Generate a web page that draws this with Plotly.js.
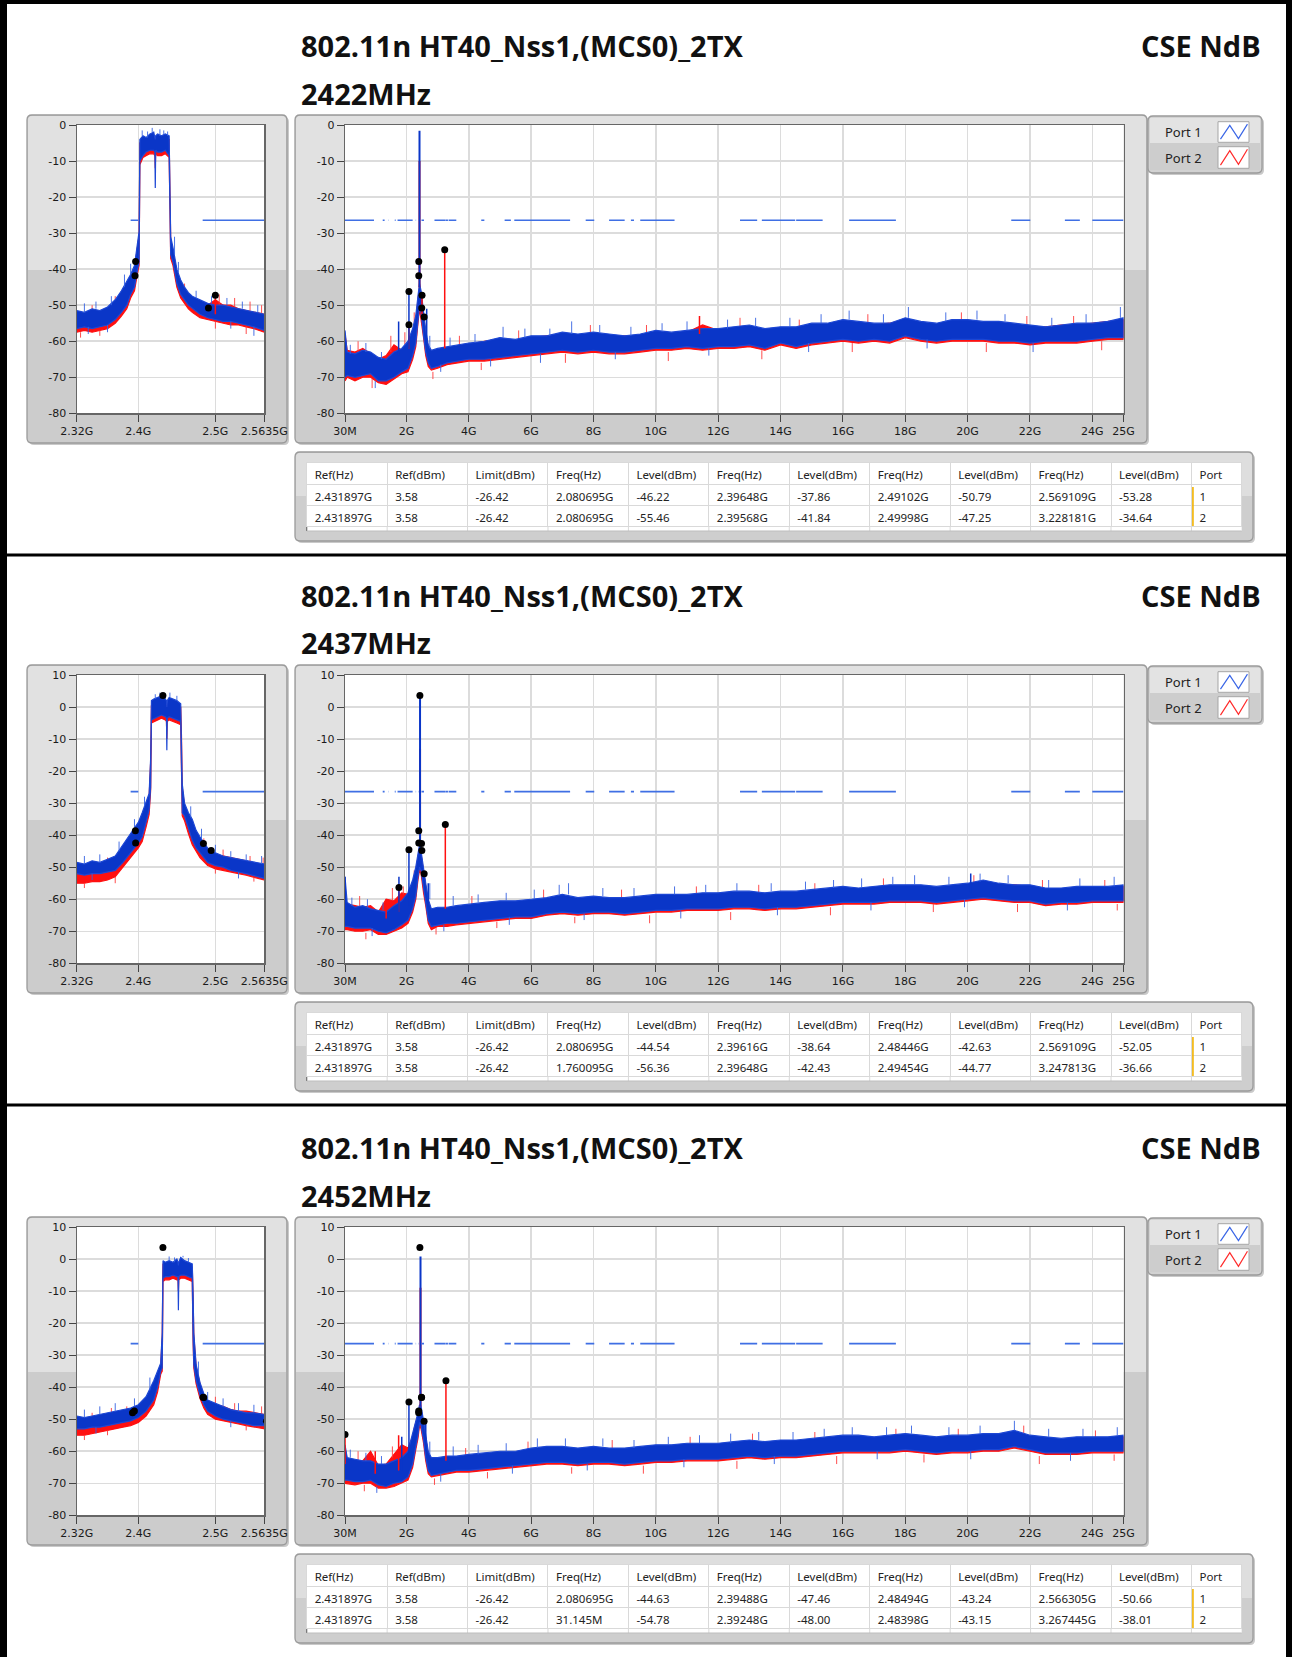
<!DOCTYPE html>
<html>
<head>
<meta charset="utf-8">
<script src="https://cdn.plot.ly/plotly-3.0.1.min.js"></script>
<style>html,body{margin:0;padding:0;background:#fff}#chart{width:1292px;height:1657px}</style>
</head>
<body>
<div id="chart"></div>
<script>
// ---------------- DATA ----------------
const TITLE = '802.11n HT40_Nss1,(MCS0)_2TX';
const RIGHT_TITLE = 'CSE NdB';
const CHANNELS = ['2422MHz', '2437MHz', '2452MHz'];
const Y_TOP = [0, 10, 10];
const Y_BOTTOM = -80;
const MAIN_TICKS = [0.03, 2, 4, 6, 8, 10, 12, 14, 16, 18, 20, 22, 24, 25];
const MAIN_TICK_TEXT = ['30M', '2G', '4G', '6G', '8G', '10G', '12G', '14G', '16G', '18G', '20G', '22G', '24G', '25G'];
const LEFT_TICKS = [2.32, 2.4, 2.5, 2.5635];
const LEFT_TICK_TEXT = ['2.32G', '2.4G', '2.5G', '2.5635G'];
const PORTS = ['Port 1', 'Port 2'];
const TABLE_HEADER = ['Ref(Hz)', 'Ref(dBm)', 'Limit(dBm)', 'Freq(Hz)', 'Level(dBm)', 'Freq(Hz)', 'Level(dBm)', 'Freq(Hz)', 'Level(dBm)', 'Freq(Hz)', 'Level(dBm)', 'Port'];
const REF_HZ = '2.431897G';
const REF_DBM = 3.58;
const LIMIT_DBM = -26.42;
const LIMIT_SEGMENTS = [[0.03,0.96],[1.24,1.3],[1.427,1.435],[1.6265,1.6455],[1.6465,1.66],[1.71,1.7188],[1.7222,2.2],[2.3,2.31],[2.39,2.4],[2.4835,2.5635],[2.9,3.26],[3.267,3.332],[3.339,3.3458],[3.358,3.6],[4.4,4.5],[5.15,5.35],[5.46,7.25],[7.75,8.025],[8.5,9.0],[9.2,9.3],[9.5,10.6],[12.7,13.25],[13.4,14.47],[14.5,15.35],[16.2,17.7],[21.4,22.01],[23.12,23.6],[24.0,25]];

// marker table values
const S1_P1_FREQ = ['2.080695G', '2.39648G', '2.49102G', '2.569109G'];
const S1_P1_LEVEL = [-46.22, -37.86, -50.79, -53.28];
const S1_P2_FREQ = ['2.080695G', '2.39568G', '2.49998G', '3.228181G'];
const S1_P2_LEVEL = [-55.46, -41.84, -47.25, -34.64];
const S2_P1_FREQ = ['2.080695G', '2.39616G', '2.48446G', '2.569109G'];
const S2_P1_LEVEL = [-44.54, -38.64, -42.63, -52.05];
const S2_P2_FREQ = ['1.760095G', '2.39648G', '2.49454G', '3.247813G'];
const S2_P2_LEVEL = [-56.36, -42.43, -44.77, -36.66];
const S3_P1_FREQ = ['2.080695G', '2.39488G', '2.48494G', '2.566305G'];
const S3_P1_LEVEL = [-44.63, -47.46, -43.24, -50.66];
const S3_P2_FREQ = ['31.145M', '2.39248G', '2.48398G', '3.267445G'];
const S3_P2_LEVEL = [-54.78, -48.00, -43.15, -38.01];

// full-span spectrum (GHz): noise band upper / lower envelopes
const MAIN_F = [0.03,0.1,0.35,0.6,0.85,1.1,1.35,1.6,1.85,2.05,2.2,2.3,2.37,2.42,2.47,2.55,2.62,2.7,2.8,3.0,3.3,3.6,4.0,4.5,5.0,5.5,6.0,6.5,7.0,7.5,8.0,8.5,9.0,9.5,10.0,10.5,11.0,11.5,12.0,12.5,13.0,13.5,14.0,14.5,15.0,15.5,16.0,16.5,17.0,17.5,18.0,18.5,19.0,19.5,20.0,20.5,21.0,21.5,22.0,22.5,23.0,23.5,24.0,24.5,25.0];

const S1_MAIN_BLUE_HI = [-57,-63,-63.5,-62.5,-63,-64.5,-65,-63,-62,-60,-56.5,-53,-47.5,-44,-46,-52.5,-57,-61,-62.5,-62,-61.5,-61,-60.5,-60,-59,-59.5,-58.5,-58.5,-57.5,-58,-57.5,-58,-58.5,-58,-57,-57.5,-57,-56.5,-56.5,-56,-55.5,-56.5,-56,-56,-55,-55,-54,-54.5,-55,-55,-53.5,-54.5,-55,-54,-54,-54.5,-54.5,-55,-55.5,-56,-55.5,-55,-55,-54.5,-53.5];
const S1_MAIN_BLUE_LO = [-70,-69.5,-70,-69.5,-69,-71,-71,-70,-68.5,-67.5,-64,-60.5,-54,-50,-52,-58.5,-63,-66,-67.5,-67,-66,-65.5,-65,-65,-64.5,-64,-63.5,-63,-62.5,-63,-62.5,-63,-63,-62.5,-62,-62,-61.5,-62,-61.5,-61.5,-61,-62,-60.5,-61.5,-60.5,-60,-59.5,-60,-59.5,-60,-58.5,-59.5,-60,-59.5,-59.5,-59.5,-60,-60,-60.5,-60,-60,-60,-59.5,-59,-59];
const S1_MAIN_RED_HI = [-58,-62.5,-63,-62,-63.5,-65,-64,-61,-62.5,-61,-57.5,-54,-48.5,-45,-47,-53,-58,-61.5,-63,-62.5,-62,-61.5,-61,-60,-59.5,-60,-59,-58.5,-58,-58.5,-58,-58.5,-58.5,-58.5,-57.5,-58,-57.5,-55.5,-57,-56.5,-56,-57,-56.5,-56.5,-55.5,-55.5,-54.5,-55,-55.5,-55,-54,-55,-55.5,-54.5,-54.5,-55,-55,-55.5,-56,-56,-55.5,-55.5,-55,-54.5,-54];
const S1_MAIN_RED_LO = [-71,-70,-71,-70,-70,-71.5,-72,-70.5,-69,-68.5,-65,-61.5,-55,-51,-53,-59,-64,-67,-68,-67.5,-66.5,-66,-65.5,-65.5,-65,-64.5,-64,-63.5,-63,-63.5,-63,-63.5,-63.5,-63,-62.5,-62.5,-62,-62.5,-62,-62,-61.5,-62.5,-61,-62,-61,-60.5,-60,-60.5,-60,-60.5,-59,-60,-60.5,-60,-60,-60,-60.5,-60.5,-61,-60.5,-60.5,-60.5,-60,-59.5,-59.5];

const S2_MAIN_BLUE_HI = [-53,-61,-62.5,-62,-63,-63.5,-64,-62,-60.5,-58,-54,-50,-46,-43,-45,-51,-55,-60,-63,-62.5,-62.5,-62,-61.5,-61,-60.5,-60.5,-60,-59.5,-58.5,-59.5,-59,-59.5,-59.5,-59,-58.5,-58.5,-58.5,-58,-58,-57.5,-57.5,-58,-57.5,-57.5,-57,-56.5,-56,-56.5,-56,-55.5,-55.5,-55.5,-56,-55.5,-55,-54,-55,-55.5,-55.5,-56.5,-56.5,-56,-56,-56,-55.5];
const S2_MAIN_BLUE_LO = [-68.5,-68.5,-69,-69,-69,-70,-70.5,-69.5,-68,-66.5,-63,-59,-53,-50,-51,-57,-61,-66.5,-68.5,-68,-67.5,-67.5,-67,-66.5,-66,-65.5,-65.5,-64.5,-64,-64.5,-64,-64,-64.5,-64,-63.5,-63.5,-63,-63,-63,-62.5,-62.5,-63,-62.5,-62.5,-62,-61.5,-61,-61,-61,-60.5,-60.5,-60.5,-61,-60.5,-60,-59.5,-60,-60.5,-60.5,-61.5,-61,-61,-60.5,-60.5,-60.5];
const S2_MAIN_RED_HI = [-60,-61.5,-62,-62.5,-62,-64,-60,-60.5,-58,-58.5,-55,-51,-47,-44,-46,-52,-56,-60.5,-63.5,-63,-63,-62.5,-62,-61.5,-61,-61,-60.5,-60,-59,-60,-59.5,-60,-60,-59.5,-59,-59,-59,-58.5,-58.5,-58,-58,-58.5,-58,-58,-57.5,-57,-56.5,-57,-56.5,-56,-56,-56,-56.5,-56,-55.5,-54.5,-55.5,-55.5,-56,-57,-57,-56.5,-56.5,-56.5,-56];
const S2_MAIN_RED_LO = [-69.5,-69.5,-70,-70,-69.5,-71,-71,-70,-69,-67.5,-64,-60,-54,-51,-52,-58,-62,-67.5,-69.5,-68.5,-68.5,-68,-67.5,-67,-66.5,-66,-66,-65,-64.5,-65,-64.5,-64.5,-65,-64.5,-64,-64,-63.5,-63.5,-63.5,-63,-63,-63.5,-63,-63,-62.5,-62,-61.5,-61.5,-61.5,-61,-61,-61,-61.5,-61,-60.5,-60,-60.5,-61,-61,-62,-61.5,-61.5,-61,-61,-61];

const S3_MAIN_BLUE_HI = [-58,-62,-62.5,-63,-63,-64,-64,-63,-62,-60,-54.5,-50,-48,-45.5,-46,-50.5,-55,-60,-62,-62,-61.5,-61.5,-61,-60.5,-60,-60,-59,-58.5,-58.5,-59,-58.5,-59,-59,-58.5,-58,-58,-57.5,-57.5,-57.5,-57,-56.5,-57,-56.5,-56.5,-56,-55.5,-55,-55,-55.5,-55,-54.5,-55,-55.5,-55,-55,-54.5,-54.5,-53.5,-55,-55.5,-56,-55.5,-55.5,-55.5,-55];
const S3_MAIN_BLUE_LO = [-69,-69,-69.5,-69.5,-69,-70.5,-71,-70,-69.5,-68,-64,-58.5,-55,-51,-52,-56.5,-62,-66,-67.5,-67,-66.5,-66,-66,-65.5,-65,-64.5,-64,-63.5,-63.5,-64,-63.5,-63.5,-64,-63.5,-63,-63,-62.5,-62.5,-62.5,-62,-61.5,-62,-61.5,-61.5,-61,-60.5,-60,-60,-60,-60,-59.5,-60,-60.5,-60,-60,-59.5,-59.5,-58.5,-59.5,-60.5,-60.5,-60.5,-60,-60,-60];
const S3_MAIN_RED_HI = [-59,-62.5,-63,-63,-60,-64.5,-64,-61,-58,-59,-55.5,-51,-49,-46.5,-47,-51.5,-56,-61,-62.5,-62.5,-62,-62,-61.5,-61,-60.5,-60.5,-59.5,-59,-59,-59.5,-59,-59.5,-59.5,-59,-58.5,-58.5,-58,-58,-58,-57.5,-57,-57.5,-57,-57,-56.5,-56,-55.5,-55.5,-56,-55.5,-55,-55.5,-56,-55.5,-55.5,-55,-55,-54,-55.5,-56,-56.5,-56,-56,-56,-55.5];
const S3_MAIN_RED_LO = [-70,-70,-70.5,-70,-70,-71.5,-71.5,-71,-70,-69,-65,-59.5,-56,-52,-53,-57.5,-63,-67,-68,-67.5,-67,-66.5,-66.5,-66,-65.5,-65,-64.5,-64,-64,-64.5,-64,-64,-64.5,-64,-63.5,-63.5,-63,-63,-63,-62.5,-62,-62.5,-62,-62,-61.5,-61,-60.5,-60.5,-60.5,-60.5,-60,-60.5,-61,-60.5,-60.5,-60,-60,-59,-60,-61,-61,-61,-60.5,-60.5,-60.5];

// carrier in the full span: [freq GHz, base dBm, port1 peak, port2 peak]
const S1_CARRIER = [2.42, -45, -1.6, -10];
const S2_CARRIER = [2.437, -44, 3.4, -13];
const S3_CARRIER = [2.452, -46, 0.8, -9];

// discrete spurs: [freq GHz, from dBm, to dBm]
const S1_SPURS_P1 = [[1.75,-64,-54.5],[2.080695,-62,-46.22],[2.65,-61,-51]];
const S1_SPURS_P2 = [[2.080695,-62,-55.46],[2.49998,-52.5,-47.25],[3.228181,-62,-34.64],[11.4,-58,-53]];
const S2_SPURS_P1 = [[0.03,-66,-53],[1.760095,-64,-53],[2.080695,-62,-44.54],[2.7,-62,-55],[20.1,-58,-52]];
const S2_SPURS_P2 = [[1.35,-66,-60],[1.760095,-64,-56.36],[3.247813,-63,-36.66]];
const S3_SPURS_P1 = [[1.85,-66,-55.5],[2.080695,-62,-44.63],[2.62,-60,-51]];
const S3_SPURS_P2 = [[0.031145,-64,-54.78],[1.0,-67,-60],[1.75,-66,-55],[3.267445,-63,-38.01]];

// noise peaks sticking out of the band: [freq GHz, from dBm, to dBm]
const S1_MAIN_NOISE_P1 = [[0.2,-63.5,-61],[0.7,-63,-60.5],[1.2,-65,-63],[2.75,-62,-58.5],[3.4,-61.5,-59],[4.2,-60.5,-58],[5.1,-59,-56],[5.8,-59,-56.5],[6.6,-58.5,-56.5],[7.3,-58,-54.5],[8.2,-57.5,-55.5],[9.2,-58.5,-56],[10.2,-57,-55],[11.0,-57,-54.5],[12.3,-56.5,-54],[13.2,-56,-53.5],[14.3,-56,-53.5],[15.3,-55,-52.5],[16.2,-54,-51.5],[17.3,-55,-52.5],[18.1,-53.5,-50.5],[19.3,-54.5,-52],[20.3,-54,-51.5],[21.2,-54.5,-52.5],[22.7,-56,-53.5],[23.8,-55,-52.5],[24.9,-53.5,-50.5],[1.0,-71,-73],[3.1,-66.5,-68.5],[4.7,-65,-67],[6.3,-63.5,-66],[8.7,-63,-65],[11.7,-62,-64],[14.9,-60.5,-63],[18.7,-59.5,-62],[22.1,-60.5,-63]];
const S1_MAIN_NOISE_P2 = [[0.45,-63,-60],[1.5,-63,-58.5],[1.95,-61,-57.5],[2.25,-57,-52],[3.7,-61.5,-58.5],[5.6,-60,-57],[7.9,-58,-55.5],[9.7,-58.5,-55.5],[12.7,-56.5,-53.5],[14.6,-56.5,-54],[16.8,-55,-52.5],[19.8,-54.5,-52],[21.9,-56,-53],[23.4,-55.5,-53],[0.9,-70.5,-73],[2.85,-68.5,-70.5],[4.4,-66,-68],[7.1,-63.5,-66],[10.4,-63,-65.5],[13.4,-62.5,-65],[16.3,-60.5,-63],[20.6,-60.5,-63],[24.3,-60,-62.5]];
const S2_MAIN_NOISE_P1 = [[0.25,-62,-59.5],[0.75,-62.5,-60],[1.25,-63.5,-61],[2.75,-60,-55],[3.5,-62,-59],[4.3,-61,-58.5],[5.2,-60.5,-58],[6.1,-60,-57],[6.9,-58.5,-55.5],[7.2,-58.5,-55],[8.3,-59,-56.5],[9.3,-59,-56.5],[10.6,-58.5,-56],[11.6,-58,-55.5],[12.6,-57.5,-55],[13.7,-57.5,-55],[14.8,-57,-54.5],[15.7,-56.5,-54],[16.6,-56.5,-53.5],[17.6,-55.5,-53],[18.3,-55.5,-52.5],[19.4,-55.5,-53],[20.4,-54.5,-52],[21.3,-55,-52.5],[22.6,-56.5,-54],[23.6,-56,-53.5],[24.7,-56,-53],[0.9,-69,-71.5],[3.2,-68,-70],[5.3,-65.5,-68],[7.7,-64.5,-66.5],[10.8,-63.5,-66],[13.9,-62.5,-65],[16.9,-61,-63.5],[19.9,-60,-62.5],[23.2,-61,-63.5]];
const S2_MAIN_NOISE_P2 = [[0.5,-62.5,-59],[1.55,-60.5,-56.5],[1.9,-58.5,-56],[2.25,-55,-51],[4.1,-62,-59],[6.4,-60,-57],[8.9,-60,-57],[11.3,-59,-56],[13.3,-58.5,-55.5],[15.1,-57.5,-55],[17.3,-56,-53.5],[20.2,-55.5,-52.5],[22.4,-57,-54],[24.4,-56.5,-54],[0.7,-70.5,-72.5],[2.95,-69,-71],[4.9,-67,-69],[7.4,-65.5,-67.5],[9.8,-65,-67.5],[12.4,-64,-66.5],[15.6,-62.5,-65],[18.9,-61.5,-64],[21.6,-61.5,-64],[24.8,-61.5,-63.5]];
const S3_MAIN_NOISE_P1 = [[0.2,-62,-59.5],[0.7,-63,-60.5],[1.2,-64,-61.5],[2.75,-61,-57],[3.5,-61.5,-58.5],[4.3,-61,-58],[5.2,-60,-57.5],[6.2,-59,-56],[7.1,-58.5,-56],[8.3,-58.5,-56],[9.3,-59,-56.5],[10.4,-58,-55.5],[11.4,-57.5,-55],[12.4,-57.5,-54.5],[13.3,-56.5,-54],[14.4,-56.5,-54],[15.4,-55.5,-53],[16.3,-55,-52.5],[17.4,-55,-52.5],[18.2,-54.5,-52],[19.4,-55,-52.5],[20.4,-54.5,-52],[21.5,-53.5,-50.5],[22.6,-55.5,-53],[23.7,-55.5,-53],[24.8,-55,-52.5],[1.05,-71,-73],[3.1,-67,-69.5],[5.4,-64.5,-67],[7.8,-64,-66],[10.9,-62.5,-65],[13.8,-61.5,-64],[17.1,-60,-62.5],[20.1,-60,-62.5],[23.3,-60.5,-63]];
const S3_MAIN_NOISE_P2 = [[0.45,-63,-60],[1.55,-62,-58.5],[2.25,-56,-52.5],[3.9,-62,-59],[5.9,-59.5,-57],[8.6,-59.5,-56.5],[11.1,-58,-55.5],[13.1,-57,-54.5],[15.1,-56.5,-54],[17.7,-55.5,-53],[19.7,-55.5,-53],[21.8,-54.5,-52],[24.1,-56,-53.5],[0.65,-70.5,-72.5],[2.9,-68.5,-70.5],[4.6,-66.5,-68.5],[7.3,-65,-67],[9.6,-64.5,-67],[12.6,-63,-65.5],[15.8,-61.5,-64],[18.6,-61,-63.5],[22.3,-61.5,-64],[24.7,-61,-63]];

// zoomed span 2.32G - 2.5635G
const S1_LEFT_F = [2.32,2.33,2.34,2.35,2.36,2.37,2.378,2.385,2.39,2.395,2.399,2.401,2.402,2.406,2.41,2.415,2.42,2.4215,2.422,2.4225,2.425,2.43,2.435,2.44,2.441,2.442,2.445,2.45,2.455,2.46,2.465,2.47,2.48,2.49,2.5,2.51,2.52,2.53,2.54,2.55,2.5635];
const S1_LEFT_BLUE_HI = [-51.5,-52,-51,-51.5,-50.5,-48.5,-46,-43.5,-41.5,-39,-33,-29.5,-4,-3,-3.5,-2.5,-2,-3,-4,-3,-2.5,-3,-2.5,-3,-13,-31,-34,-40,-43,-45,-46.5,-47.5,-48.5,-49.5,-50,-50,-50.5,-51,-51.5,-52,-52.5];
const S1_LEFT_BLUE_LO = [-56.5,-56,-56.5,-56,-55.5,-54,-52,-50,-47,-45,-40,-38,-10,-8.5,-7.5,-7,-7,-7.5,-17.5,-7,-7.5,-7.5,-7,-8.5,-20,-36,-38,-44,-47,-48.5,-50,-51,-52.5,-53.5,-54,-54.5,-54.5,-55,-55.5,-56,-57];
const S1_LEFT_RED_HI = [-52.5,-52.5,-52,-52,-51.5,-49.5,-47,-44.5,-42.5,-40,-34,-30.5,-5,-4,-4.5,-3.5,-3,-4,-5,-4,-3.5,-4,-3.5,-4,-14,-32,-35,-41,-44,-46,-47,-48,-49,-50,-48.5,-50,-50,-51,-51.5,-52,-52.5];
const S1_LEFT_RED_LO = [-57.5,-57,-57.5,-57,-56.5,-55,-53,-51,-48,-46,-41,-39,-11,-9,-8.5,-8,-8,-8.5,-12,-8,-8.5,-8.5,-8,-9,-21,-37,-39,-45,-48,-49.5,-51,-52,-53.5,-54,-54.5,-55,-55.5,-55.5,-56,-56.5,-57.5];

const S2_LEFT_F = [2.32,2.33,2.34,2.35,2.36,2.37,2.38,2.39,2.4,2.405,2.41,2.414,2.416,2.417,2.42,2.425,2.43,2.435,2.4365,2.437,2.4375,2.44,2.445,2.45,2.455,2.456,2.457,2.46,2.465,2.47,2.475,2.48,2.49,2.5,2.51,2.52,2.53,2.54,2.55,2.5635];
const S2_LEFT_BLUE_HI = [-48.5,-49,-48,-48.5,-47.5,-46.5,-43,-39.5,-36,-33,-29.5,-27,-16,2,2.5,3,3.5,2.5,2,0,2,3,2.5,2,1,-8,-24,-30,-33,-35,-38.5,-40.5,-44,-45.5,-46.5,-47,-47.5,-48,-48.5,-49];
const S2_LEFT_BLUE_LO = [-52,-52.5,-52,-52,-51.5,-51,-48.5,-45.5,-42.5,-40.5,-36,-32,-25,-4,-3.5,-3,-2.5,-3,-3.5,-13.5,-3.5,-3,-3.5,-4,-4.5,-20,-33,-34,-38,-41.5,-44,-45.5,-48.5,-49.5,-50,-51,-51.5,-52,-52.5,-53.5];
const S2_LEFT_RED_HI = [-50,-50.5,-49.5,-50,-49,-48,-44.5,-41,-37.5,-34.5,-31,-28,-17,0.5,1,1.5,1.5,1,0.5,-1,0.5,1.5,1,0.5,0,-9,-25,-31,-34,-36,-39.5,-41.5,-44.5,-46,-46.5,-47,-47.5,-48,-49,-49.5];
const S2_LEFT_RED_LO = [-55,-55,-54.5,-54.5,-54,-53,-50,-47,-44,-42,-37.5,-33.5,-26,-5,-4.5,-4,-3.5,-4,-4.5,-10,-4.5,-4,-4.5,-5,-5.5,-21,-34,-35.5,-39.5,-43,-45,-47,-49.5,-50.5,-51,-51.5,-52,-52.5,-53,-54];

const S3_LEFT_F = [2.32,2.33,2.34,2.35,2.36,2.37,2.38,2.39,2.4,2.41,2.42,2.425,2.429,2.431,2.432,2.435,2.44,2.445,2.45,2.4515,2.452,2.4525,2.455,2.46,2.465,2.47,2.471,2.472,2.475,2.48,2.485,2.49,2.5,2.51,2.52,2.53,2.54,2.55,2.5635];
const S3_LEFT_BLUE_HI = [-49,-49.5,-49,-48.5,-48,-47.5,-47,-46.5,-45.5,-43,-38,-35,-32.5,-23,-0.5,-1,-0.5,-1,0,-1,-2,-1,0.5,-0.5,-1,-1.5,-10,-23,-33,-38.5,-42,-44,-45,-46,-47,-47.5,-48,-48,-48.5];
const S3_LEFT_BLUE_LO = [-53,-53,-52.5,-52.5,-52,-51.5,-51,-50.5,-49.5,-47.5,-44,-40,-35,-34,-6,-5.5,-5.5,-5,-5.5,-5.5,-16,-5.5,-5,-5,-5.5,-6,-24,-33,-38,-42.5,-45.5,-47.5,-49,-50,-50.5,-51,-51.5,-52,-52];
const S3_LEFT_RED_HI = [-50,-50.5,-50,-49.5,-49,-48.5,-48,-47.5,-46.5,-44,-39,-36,-33.5,-24,-1.5,-2,-1.5,-2,-1,-2,-3,-2,-0.5,-1.5,-2,-2.5,-11,-24,-33.5,-39,-42.5,-44.5,-45.5,-46,-47,-47.5,-47.5,-48,-48.5];
const S3_LEFT_RED_LO = [-55,-55,-54.5,-54,-53.5,-53,-52.5,-52,-51,-49,-45.5,-41.5,-36,-35,-7,-6.5,-6.5,-6,-6.5,-6.5,-10,-6.5,-6,-6,-6.5,-7,-25,-34,-39,-43.5,-46.5,-48.5,-50,-50.5,-51,-51.5,-52,-52.5,-53];

const S1_LEFT_NOISE_P1 = [[2.405,-3,-1.5],[2.412,-3.5,-1.8],[2.418,-2,-0.8],[2.428,-3,-1.2],[2.433,-2.5,-1.5],[2.438,-3,-1.8],[2.33,-52,-49.5],[2.345,-51,-49],[2.365,-50,-47.5],[2.382,-45,-41.5],[2.39,-41.5,-38.5],[2.447,-36,-31],[2.452,-41,-38],[2.475,-48,-46],[2.495,-49.5,-47.5],[2.515,-50,-48],[2.535,-51,-49],[2.555,-52,-50],[2.335,-56,-58],[2.36,-55.5,-57.5],[2.52,-54.5,-56.5],[2.55,-56,-58.5]];
const S1_LEFT_NOISE_P2 = [[2.34,-52,-50],[2.37,-49.5,-47.5],[2.46,-46,-44],[2.505,-50,-47],[2.525,-50.5,-48],[2.545,-51.5,-49],[2.56,-52.5,-50],[2.325,-57.5,-59],[2.35,-57,-58.5],[2.5,-54.5,-56.5],[2.54,-56,-58]];
const S2_LEFT_NOISE_P1 = [[2.422,2.5,4],[2.428,3,4.5],[2.441,3,4.5],[2.45,2,3.5],[2.33,-49,-46.5],[2.35,-48.5,-46],[2.375,-45,-42],[2.395,-38,-35],[2.408,-31,-28],[2.468,-34.5,-31],[2.482,-41,-38],[2.5,-45.5,-43],[2.52,-47,-45],[2.54,-48,-46],[2.56,-49,-46.5],[2.34,-52,-54],[2.53,-51.5,-53.5]];
const S2_LEFT_NOISE_P2 = [[2.36,-49,-47],[2.485,-43,-41],[2.51,-46.5,-44.5],[2.545,-48.5,-46.5],[2.562,-49.5,-47],[2.33,-55,-56.5],[2.37,-53,-55],[2.5,-50.5,-52],[2.55,-53,-54.5]];
const S3_LEFT_NOISE_P1 = [[2.44,-0.5,0.8],[2.447,-1,0.5],[2.458,0.5,1],[2.465,-1,0.3],[2.33,-49.5,-47],[2.35,-48.5,-46],[2.37,-47.5,-45],[2.395,-46,-43.5],[2.415,-41,-37],[2.478,-36,-32],[2.49,-44,-41.5],[2.51,-46,-43.5],[2.53,-47.5,-45],[2.55,-48,-45.5],[2.345,-52.5,-54.5],[2.52,-50.5,-52.5]];
const S3_LEFT_NOISE_P2 = [[2.34,-50,-48],[2.365,-49,-46.5],[2.385,-48,-46],[2.5,-45.5,-43],[2.525,-47,-45],[2.56,-48.5,-46],[2.33,-55,-56.5],[2.36,-53.5,-55],[2.54,-52,-53.5]];

// ---------------- STYLE / LAYOUT ----------------
const W = 1292, H = 1657;
const X = v => v / W;
const Y = v => 1 - v / H;
const OFFS = [0, 550, 1102];
const BLUE = '#0a36c8', BLUE_EDGE = '#1d47d4', BLUE_FUZZ = '#3562e2';
const RED = '#ff1010', RED_FUZZ = '#ff3a3a', LIMIT_BLUE = '#3f6fe4';
const TICK_FONT = {family: 'DejaVu Sans', size: 11, color: '#1a1a1a'};

function parseHz(s) {
  const u = s.slice(-1), v = parseFloat(s);
  return u === 'G' ? v : (u === 'M' ? v / 1000 : v);
}

const SECTIONS = [
  {ch: CHANNELS[0], top: Y_TOP[0], mbh: S1_MAIN_BLUE_HI, mbl: S1_MAIN_BLUE_LO, mrh: S1_MAIN_RED_HI, mrl: S1_MAIN_RED_LO,
   lf: S1_LEFT_F, lbh: S1_LEFT_BLUE_HI, lbl: S1_LEFT_BLUE_LO, lrh: S1_LEFT_RED_HI, lrl: S1_LEFT_RED_LO,
   car: S1_CARRIER, sp1: S1_SPURS_P1, sp2: S1_SPURS_P2, mn1: S1_MAIN_NOISE_P1, mn2: S1_MAIN_NOISE_P2, ln1: S1_LEFT_NOISE_P1, ln2: S1_LEFT_NOISE_P2,
   f1: S1_P1_FREQ, l1: S1_P1_LEVEL, f2: S1_P2_FREQ, l2: S1_P2_LEVEL},
  {ch: CHANNELS[1], top: Y_TOP[1], mbh: S2_MAIN_BLUE_HI, mbl: S2_MAIN_BLUE_LO, mrh: S2_MAIN_RED_HI, mrl: S2_MAIN_RED_LO,
   lf: S2_LEFT_F, lbh: S2_LEFT_BLUE_HI, lbl: S2_LEFT_BLUE_LO, lrh: S2_LEFT_RED_HI, lrl: S2_LEFT_RED_LO,
   car: S2_CARRIER, sp1: S2_SPURS_P1, sp2: S2_SPURS_P2, mn1: S2_MAIN_NOISE_P1, mn2: S2_MAIN_NOISE_P2, ln1: S2_LEFT_NOISE_P1, ln2: S2_LEFT_NOISE_P2,
   f1: S2_P1_FREQ, l1: S2_P1_LEVEL, f2: S2_P2_FREQ, l2: S2_P2_LEVEL},
  {ch: CHANNELS[2], top: Y_TOP[2], mbh: S3_MAIN_BLUE_HI, mbl: S3_MAIN_BLUE_LO, mrh: S3_MAIN_RED_HI, mrl: S3_MAIN_RED_LO,
   lf: S3_LEFT_F, lbh: S3_LEFT_BLUE_HI, lbl: S3_LEFT_BLUE_LO, lrh: S3_LEFT_RED_HI, lrl: S3_LEFT_RED_LO,
   car: S3_CARRIER, sp1: S3_SPURS_P1, sp2: S3_SPURS_P2, mn1: S3_MAIN_NOISE_P1, mn2: S3_MAIN_NOISE_P2, ln1: S3_LEFT_NOISE_P1, ln2: S3_LEFT_NOISE_P2,
   f1: S3_P1_FREQ, l1: S3_P1_LEVEL, f2: S3_P2_FREQ, l2: S3_P2_LEVEL}
];

const sfx = n => (n === 1 ? '' : String(n));

function band(F, hi, lo, fill, edge, n) {
  return {type: 'scatter', mode: 'lines', x: F.concat(F.slice().reverse()), y: hi.concat(lo.slice().reverse()),
    fill: 'toself', fillcolor: fill, line: {color: edge, width: 1.2}, xaxis: 'x' + sfx(n), yaxis: 'y' + sfx(n), hoverinfo: 'skip'};
}
function spurs(list, color, n, w) {
  const x = [], y = [];
  list.forEach(s => { x.push(s[0], s[0], null); y.push(s[1], s[2], null); });
  return {type: 'scatter', mode: 'lines', x, y, line: {color, width: w || 1.5}, xaxis: 'x' + sfx(n), yaxis: 'y' + sfx(n), hoverinfo: 'skip'};
}
function limitTrace(n) {
  const x = [], y = [];
  LIMIT_SEGMENTS.forEach(s => { x.push(s[0], s[1], null); y.push(LIMIT_DBM, LIMIT_DBM, null); });
  return {type: 'scatter', mode: 'lines', x, y, line: {color: LIMIT_BLUE, width: 1.6}, xaxis: 'x' + sfx(n), yaxis: 'y' + sfx(n), hoverinfo: 'skip'};
}
function markerTrace(sec, n) {
  const x = [parseHz(REF_HZ)].concat(sec.f1.map(parseHz), sec.f2.map(parseHz));
  const y = [REF_DBM].concat(sec.l1, sec.l2);
  return {type: 'scatter', mode: 'markers', x, y, marker: {color: '#000', size: 7}, xaxis: 'x' + sfx(n), yaxis: 'y' + sfx(n), hoverinfo: 'skip'};
}

function rrectPath(x0, y0, x1, y1, r) {
  return `M${X(x0 + r)},${Y(y0)} L${X(x1 - r)},${Y(y0)} Q${X(x1)},${Y(y0)} ${X(x1)},${Y(y0 + r)} ` +
    `L${X(x1)},${Y(y1 - r)} Q${X(x1)},${Y(y1)} ${X(x1 - r)},${Y(y1)} L${X(x0 + r)},${Y(y1)} ` +
    `Q${X(x0)},${Y(y1)} ${X(x0)},${Y(y1 - r)} L${X(x0)},${Y(y0 + r)} Q${X(x0)},${Y(y0)} ${X(x0 + r)},${Y(y0)} Z`;
}
function topRoundPath(x0, y0, x1, y1, r) {
  return `M${X(x0 + r)},${Y(y0)} L${X(x1 - r)},${Y(y0)} Q${X(x1)},${Y(y0)} ${X(x1)},${Y(y0 + r)} ` +
    `L${X(x1)},${Y(y1)} L${X(x0)},${Y(y1)} L${X(x0)},${Y(y0 + r)} Q${X(x0)},${Y(y0)} ${X(x0 + r)},${Y(y0)} Z`;
}
function pathShape(path, fill, line, lw) {
  return {type: 'path', xref: 'paper', yref: 'paper', path, fillcolor: fill || 'rgba(0,0,0,0)',
    line: {color: line || 'rgba(0,0,0,0)', width: line ? (lw || 1) : 0}, layer: 'below'};
}
function rectShape(x0, y0, x1, y1, fill, line, lw) {
  return {type: 'rect', xref: 'paper', yref: 'paper', x0: X(x0), x1: X(x1), y0: Y(y1), y1: Y(y0),
    fillcolor: fill || 'rgba(0,0,0,0)', line: {color: line || 'rgba(0,0,0,0)', width: line ? (lw || 1) : 0}, layer: 'below'};
}
function lineShape(x0, y0, x1, y1, color, w) {
  return {type: 'line', xref: 'paper', yref: 'paper', x0: X(x0), x1: X(x1), y0: Y(y0), y1: Y(y1),
    line: {color, width: w || 1}, layer: 'below'};
}
function frame(shapes, x0, y0, x1, y1, split, light, dark) {
  shapes.push(pathShape(rrectPath(x0 + 2, y0 + 2, x1 + 2, y1 + 2, 5), '#c9c9c9'));
  shapes.push(pathShape(rrectPath(x0, y0, x1, y1, 5), dark));
  shapes.push(pathShape(topRoundPath(x0 + 1, y0 + 1, x1 - 1, split, 4), light));
  shapes.push(pathShape(rrectPath(x0, y0, x1, y1, 5), null, '#9a9a9a', 1.3));
}

const traces = [];
const shapes = [];
const annotations = [];
const layout = {
  width: W, height: H, margin: {l: 0, r: 0, t: 0, b: 0}, autosize: false,
  paper_bgcolor: '#ffffff', plot_bgcolor: '#ffffff', showlegend: false, hovermode: false,
  font: {family: 'DejaVu Sans', size: 11, color: '#1a1a1a'}
};

// outer black frame
shapes.push(rectShape(0, 0, W, 4, '#000'));
shapes.push(rectShape(0, 0, 7, H, '#000'));
shapes.push(rectShape(1286, 0, W, H, '#000'));
shapes.push(rectShape(0, 553.5, W, 556.5, '#000'));
shapes.push(rectShape(0, 1103.5, W, 1106.5, '#000'));

const COLW = [80, 80, 80, 80, 80, 80, 80, 80, 80, 80, 80, 50];
const TITLE_FONT = {family: 'Open Sans', size: 29, weight: 700, color: '#111'};

SECTIONS.forEach((sec, i) => {
  const o = OFFS[i];
  const nMain = 2 * i + 1, nLeft = 2 * i + 2;
  const pTop = 125 + o, pBot = 413.3 + o;

  // panel frames
  frame(shapes, 27, 115 + o, 287, 443 + o, 270 + o, '#e1e1e1', '#cccccc');
  frame(shapes, 295, 115 + o, 1147, 443 + o, 270 + o, '#e1e1e1', '#cccccc');
  frame(shapes, 295, 452 + o, 1253, 541 + o, 496 + o, '#dedede', '#cecece');
  // plot areas
  shapes.push(rectShape(76.7, pTop, 264.3, pBot, '#ffffff'));
  shapes.push(rectShape(345, pTop, 1123.5, pBot, '#ffffff'));

  // legend box
  shapes.push(pathShape(rrectPath(1150, 118 + o, 1264, 175 + o, 5), '#c9c9c9'));
  shapes.push(pathShape(rrectPath(1148, 116 + o, 1262, 173 + o, 5), '#d2d2d2'));
  shapes.push(rectShape(1150, 118 + o, 1260, 143 + o, '#e3e3e3'));
  shapes.push(rectShape(1150, 143 + o, 1260, 170 + o, '#cdcdcd'));
  shapes.push(pathShape(rrectPath(1148, 116 + o, 1262, 173 + o, 5), null, '#9a9a9a', 1.3));
  const boxes = [[121.7, 142.3, '#3a66e6'], [146.7, 168.3, '#ff2a2a']];
  boxes.forEach((b, k) => {
    const bx0 = 1218, bx1 = 1249, by0 = b[0] + o, by1 = b[1] + o;
    shapes.push(rectShape(bx0, by0, bx1, by1, '#ffffff', '#a5a5a5', 1));
    const pts = [[0.08, 0.85], [0.38, 0.18], [0.66, 0.82], [0.95, 0.12]];
    const d = pts.map((p, j) => (j ? 'L' : 'M') + X(bx0 + p[0] * (bx1 - bx0)) + ',' + Y(by0 + p[1] * (by1 - by0))).join(' ');
    shapes.push({type: 'path', xref: 'paper', yref: 'paper', path: d, line: {color: b[2], width: 1.2}, layer: 'below'});
    annotations.push({xref: 'paper', yref: 'paper', x: X(1163), y: Y((by0 + by1) / 2), xanchor: 'left', yanchor: 'middle',
      text: PORTS[k], showarrow: false, font: {family: 'Noto Sans', size: 13, color: '#222'}});
  });

  // table background / borders
  shapes.push(rectShape(306.7, 462.7 + o, 1241.7, 531 + o, '#ffffff'));
  let cx = 306.7;
  const scale = (1241.7 - 306.7) / COLW.reduce((a, b) => a + b, 0);
  COLW.forEach((w, k) => { cx += w * scale; if (k < COLW.length - 1) shapes.push(lineShape(cx, 527 + o, cx, 531 + o, '#d9d9d9', 1)); });
  shapes.push(lineShape(306.7, 462.7 + o, 1241.7, 462.7 + o, '#6e6e6e', 1.2));
  shapes.push(lineShape(306.7, 462.7 + o, 306.7, 531 + o, '#6e6e6e', 1.2));
  shapes.push(lineShape(306.7, 531 + o, 1241.7, 531 + o, '#bdbdbd', 1));
  const portX = 306.7 + COLW.slice(0, 11).reduce((a, b) => a + b, 0) * scale + 1.5;
  shapes.push({type: 'line', xref: 'paper', yref: 'paper', x0: X(portX), x1: X(portX), y0: Y(487 + o), y1: Y(526 + o),
    line: {color: '#f2b300', width: 1.6}, layer: 'above'});

  // titles
  annotations.push({xref: 'paper', yref: 'paper', x: X(299), y: Y(45 + o), xanchor: 'left', yanchor: 'middle', showarrow: false,
    text: TITLE, font: TITLE_FONT});
  annotations.push({xref: 'paper', yref: 'paper', x: X(299), y: Y(93 + o), xanchor: 'left', yanchor: 'middle', showarrow: false,
    text: sec.ch, font: TITLE_FONT});
  annotations.push({xref: 'paper', yref: 'paper', x: X(1263), y: Y(45 + o), xanchor: 'right', yanchor: 'middle', showarrow: false,
    text: RIGHT_TITLE, font: TITLE_FONT});

  // axes
  const yt = [];
  for (let v = Y_BOTTOM; v <= sec.top; v += 10) yt.push(v);
  const common = {ticks: 'outside', ticklen: 7, tickwidth: 1, tickcolor: '#444', showgrid: true, gridcolor: '#dcdcdc', gridwidth: 1.5,
    showline: true, linecolor: '#666', linewidth: 1.2, mirror: true, zeroline: false, tickfont: TICK_FONT, fixedrange: true};
  layout['xaxis' + sfx(nMain)] = Object.assign({}, common, {domain: [X(345), X(1123.5)], anchor: 'y' + sfx(nMain), range: [0.03, 25],
    tickmode: 'array', tickvals: MAIN_TICKS, ticktext: MAIN_TICK_TEXT});
  layout['yaxis' + sfx(nMain)] = Object.assign({}, common, {domain: [Y(pBot), Y(pTop)], anchor: 'x' + sfx(nMain), range: [Y_BOTTOM, sec.top],
    tickmode: 'array', tickvals: yt, ticktext: yt.map(String)});
  layout['xaxis' + sfx(nLeft)] = Object.assign({}, common, {domain: [X(76.7), X(264.3)], anchor: 'y' + sfx(nLeft), range: [2.32, 2.5635],
    tickmode: 'array', tickvals: LEFT_TICKS, ticktext: LEFT_TICK_TEXT});
  layout['yaxis' + sfx(nLeft)] = Object.assign({}, common, {domain: [Y(pBot), Y(pTop)], anchor: 'x' + sfx(nLeft), range: [Y_BOTTOM, sec.top],
    tickmode: 'array', tickvals: yt, ticktext: yt.map(String)});

  // traces: full span
  traces.push(band(MAIN_F, sec.mrh, sec.mrl, RED, RED, nMain));
  traces.push(spurs(sec.mn2, RED_FUZZ, nMain, 0.9));
  traces.push(band(MAIN_F, sec.mbh, sec.mbl, BLUE, BLUE_EDGE, nMain));
  traces.push(spurs(sec.mn1, BLUE_FUZZ, nMain, 0.9));
  traces.push(spurs([[sec.car[0], sec.car[1], sec.car[3]]], RED, nMain, 2));
  traces.push(spurs([[sec.car[0], sec.car[1], sec.car[2]]], BLUE, nMain, 2));
  traces.push(spurs(sec.sp2, RED, nMain));
  traces.push(spurs(sec.sp1, BLUE, nMain));
  traces.push(limitTrace(nMain));
  traces.push(markerTrace(sec, nMain));
  // traces: zoomed span
  traces.push(band(sec.lf, sec.lrh, sec.lrl, RED, RED, nLeft));
  traces.push(spurs(sec.ln2, RED_FUZZ, nLeft, 0.9));
  traces.push(band(sec.lf, sec.lbh, sec.lbl, BLUE, BLUE_EDGE, nLeft));
  traces.push(spurs(sec.ln1, BLUE_FUZZ, nLeft, 0.9));
  traces.push(spurs(sec.sp2, RED, nLeft));
  traces.push(spurs(sec.sp1, BLUE, nLeft));
  traces.push(limitTrace(nLeft));
  traces.push(markerTrace(sec, nLeft));

  // table
  const cols = [[REF_HZ, REF_HZ], [REF_DBM.toFixed(2), REF_DBM.toFixed(2)], [LIMIT_DBM.toFixed(2), LIMIT_DBM.toFixed(2)]];
  for (let k = 0; k < 4; k++) {
    cols.push([sec.f1[k], sec.f2[k]]);
    cols.push([sec.l1[k].toFixed(2), sec.l2[k].toFixed(2)]);
  }
  cols.push(['1', '2']);
  traces.push({type: 'table', domain: {x: [X(306.7), X(1241.7)], y: [Y(531 + o), Y(462.7 + o)]}, columnwidth: COLW,
    header: {values: TABLE_HEADER, align: 'left', height: 22, fill: {color: '#ffffff'}, line: {color: '#d9d9d9', width: 1},
      font: {family: 'Noto Sans', size: 11.5, color: '#222'}},
    cells: {values: cols, align: 'left', height: 21, fill: {color: '#ffffff'}, line: {color: '#d9d9d9', width: 1},
      font: {family: 'Noto Sans', size: 11.5, color: '#222'}}});
});

layout.shapes = shapes;
layout.annotations = annotations;
Plotly.newPlot('chart', traces, layout, {staticPlot: true, displayModeBar: false});
</script>
</body>
</html>
